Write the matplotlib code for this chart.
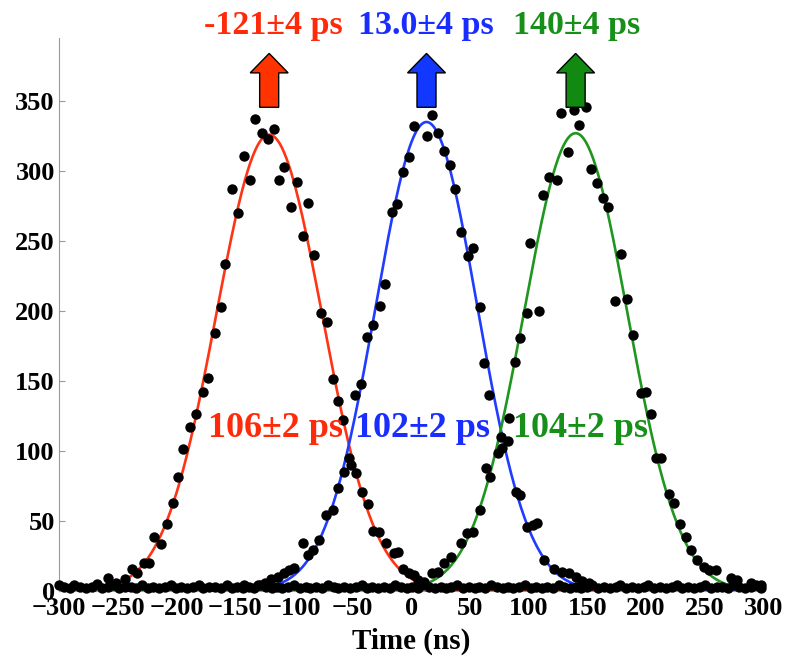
import matplotlib
matplotlib.use("Agg")
import matplotlib.pyplot as plt
import numpy as np
from matplotlib.patches import FancyArrow

plt.rcParams["font.family"] = ["Liberation Serif", "DejaVu Serif"]
plt.rcParams["font.weight"] = "bold"

# Gaussian fit results (x in ns): centre, FWHM, peak height, fitted range
fit_center = [-121.0, 13.0, 140.0]
fit_fwhm = [106.0, 102.0, 104.0]
fit_height = [326.0, 335.0, 327.0]
fit_lo = [-252.0, -132.0, -300.0]
fit_hi = [161.0, 300.0, 295.0]
fit_colors = ["#ff3415", "#1f3cff", "#1f961f"]
text_colors = ["#ff2a0a", "#1a2dff", "#17901a"]
arrow_colors = ["#ff3300", "#1238ff", "#128a12"]

shift_labels = ["-121\u00b14 ps", "13.0\u00b14 ps", "140\u00b14 ps"]
width_labels = ["106\u00b12 ps", "102\u00b12 ps", "104\u00b12 ps"]
# small horizontal nudges of the labels relative to the fit centre
shift_dx = [3.5, -0.5, 1.0]
width_dx = [5.0, -3.0, 4.0]

# measured histogram points
red_x = [-132.8, -127.4, -122.3, -117.2, -142.7, -137.4, -152.7, -147.6, -158.6, -162.3,
         -167.4, -112.4, -108.2, -97.4, -102.5, -88.2, -92.5, -82.6, -76.9, -71.8,
         -173.4, -177.1, -183.3, -188.4, -194.1, -198.9, -202.6, -208.2, -218.8, -213.1,
         -223.0, -227.8, -233.3, -238.0, -243.7, -251.4, -258.5,
         -67.0, -62.2, -58.5, -52.8, -51.4, -47.1, -42.0, -37.2, -32.9, -27.3,
         -21.6, -14.5, -11.7, -7.4, -1.8, 2.5, 5.4, 11.0]
red_y = [336.9, 327.4, 322.9, 330.0, 310.7, 293.6, 287.1, 269.8, 233.6, 202.6,
         184.5, 293.6, 303.1, 291.9, 274.5, 277.4, 253.6, 240.0, 198.4, 192.4,
         151.9, 141.9, 126.4, 117.4, 101.2, 81.2, 63.1, 47.9, 38.3, 33.6,
         20.2, 20.2, 13.1, 15.5, 8.3, 5.9, 9.5,
         151.2, 135.7, 122.1, 94.8, 90.0, 84.5, 70.9, 62.1, 43.1, 42.4,
         34.1, 26.9, 28.1, 15.5, 12.6, 11.4, 7.9, 6.6]

blue_x = [17.5, 2.5, 13.0, 23.2, 27.5, 33.1, -1.8, -7.4, -12.2, -16.8,
          37.4, 42.2, 52.7, 48.4, 58.6, -22.2, -26.7, -32.4, -37.8,
          -42.9, -48.0, -57.1, -62.7, -67.0, -72.7, -78.4, -84.0, -92.0, -88.2,
          -99.6, -103.9, -108.7, -113.8, -119.5, -124.6, -130.8, -142.2,
          62.1, 66.3, 83.3, 89.0, 92.7, 99.0, 107.5, 103.5, 113.1, 121.6,
          128.8, 134.4, 140.1, 145.8, 151.4]
blue_y = [340.0, 332.1, 325.2, 327.4, 314.5, 304.3, 309.7, 299.5, 276.4, 270.5,
          286.9, 256.2, 244.8, 239.3, 202.6, 219.3, 203.8, 190.0, 181.7,
          147.6, 140.0, 85.2, 73.4, 57.9, 54.3, 36.4, 29.3, 34.5, 25.7,
          16.2, 15.0, 12.6, 10.2, 8.3, 5.9, 4.3, 4.3,
          163.1, 140.0, 123.3, 70.9, 68.6, 45.9, 48.8, 47.0, 22.1, 15.5,
          13.8, 12.6, 9.8, 7.4, 5.5]

green_x = [101.2, 98.4, 92.4, 127.9, 138.6, 148.6, 142.9, 133.9, 152.9, 158.6,
           117.4, 123.9, 112.6, 163.3, 167.6, 178.4, 173.3, 184.1, 108.4, 188.9,
           88.2, 82.0, 77.7, 76.3, 73.5, 63.5, 67.2, 58.6, 53.0, 47.9,
           42.2, 33.7, 28.0, 22.4, 18.1,
           195.4, 199.7, 203.9, 208.2, 212.4, 219.5, 223.8, 228.6, 233.7, 238.0,
           243.7, 249.3, 253.5, 259.2, 272.0, 277.7, 289.0, 297.5]
green_y = [248.8, 198.4, 180.7, 341.2, 343.6, 345.5, 332.9, 313.8, 301.2, 291.6,
           295.5, 293.6, 282.9, 280.9, 274.5, 240.7, 207.4, 208.4, 200.0, 182.6,
           163.8, 107.4, 101.9, 110.2, 98.8, 87.6, 81.6, 57.9, 42.4, 41.2,
           34.1, 24.5, 20.2, 13.8, 12.6,
           141.6, 142.4, 126.4, 94.8, 94.8, 69.3, 63.1, 47.9, 38.8, 29.3,
           22.1, 17.4, 15.0, 15.0, 9.1, 7.9, 5.5, 4.3]

# background counts along the baseline
base_x = [-300, -296, -291, -287, -282, -277, -272, -268, -263, -258, -253, -249, -244,
          -239, -234, -229, -224, -220, -215, -210, -205, -200, -196, -191, -186, -181,
          -177, -172, -167, -162, -157, -153, -148, -143, -138, -134, -129, -124, -119,
          -114, -110, -105, -100, -95, -90, -86, -81, -76, -71, -66, -62, -57, -52,
          -47, -42, -38, -33, -28, -23, -18, -14, -9, -4, 1, 6, 10, 15, 20, 25, 30,
          34, 39, 44, 49, 54, 58, 63, 68, 73, 78, 82, 87, 92, 97, 102, 106, 111, 116,
          121, 126, 130, 135, 140, 145, 150, 154, 159, 164, 169, 174, 178, 183, 188,
          193, 198, 202, 207, 212, 217, 222, 226, 231, 236, 241, 246, 250, 255, 260,
          265, 270, 274, 279, 284, 289, 294, 298]
base_y = [4, 3, 2, 4, 3, 2, 3, 5, 2, 3, 4, 2, 3,
          3, 2, 4, 2, 3, 2, 3, 4, 2, 3, 2, 3, 4,
          2, 3, 3, 2, 4, 2, 3, 2, 3, 2, 4, 3, 2,
          3, 2, 3, 4, 2, 3, 2, 3, 2, 4, 3, 2, 3, 2,
          3, 4, 2, 3, 2, 3, 2, 4, 3, 2, 3, 2, 4, 3, 2, 3, 2,
          3, 4, 2, 3, 2, 3, 2, 4, 3, 2, 3, 2, 3, 4, 2, 3, 2, 3,
          2, 4, 3, 2, 3, 2, 3, 4, 2, 3, 2, 3, 4, 2, 3,
          2, 3, 4, 2, 3, 2, 3, 4, 2, 3, 2, 3, 4, 2, 3,
          3, 2, 4, 3, 2, 3, 4, 2]

fig = plt.figure(figsize=(8, 6.67), dpi=100)
ax = fig.add_axes([0.07375, 0.114, 0.8806, 0.829])

for c, w, h, lo, hi, col in zip(fit_center, fit_fwhm, fit_height, fit_lo, fit_hi, fit_colors):
    xs = np.linspace(lo, hi, 600)
    ax.plot(xs, h * np.exp(-4 * np.log(2) * (xs - c) ** 2 / w ** 2), color=col, lw=1.9, zorder=2)

all_x = red_x + blue_x + green_x + base_x
all_y = red_y + blue_y + green_y + base_y
ax.scatter(all_x, all_y, s=56, color="black", zorder=3, clip_on=False, linewidths=0)

for i, c in enumerate(fit_center):
    arr = FancyArrow(c, 345.5, 0, 38.5, width=16.2, head_width=32.3, head_length=13.9,
                     length_includes_head=True, fc=arrow_colors[i], ec="black", lw=1.0,
                     clip_on=False, zorder=4)
    ax.add_patch(arr)
    ax.text(c + shift_dx[i], 398, shift_labels[i], color=text_colors[i], fontsize=24.5,
            fontweight="bold", ha="center", va="baseline", clip_on=False)
    ax.text(c + width_dx[i], 110, width_labels[i], color=text_colors[i], fontsize=26,
            fontweight="bold", ha="center", va="baseline", zorder=5)

ax.set_xlim(-300, 300)
ax.set_ylim(0, 395)
ax.set_xticks(np.arange(-300, 301, 50))
ax.set_yticks(np.arange(0, 351, 50))
ax.tick_params(direction="in", length=4, color="#999999", labelsize=19)
ax.tick_params(axis="x", pad=4)
ax.tick_params(axis="y", pad=3)
for lab in ax.get_xticklabels() + ax.get_yticklabels():
    lab.set_fontweight("bold")
ax.spines["top"].set_visible(False)
ax.spines["right"].set_visible(False)
ax.spines["left"].set_color("#999999")
ax.spines["bottom"].set_color("#999999")
ax.set_xlabel("Time (ns)", fontsize=21, fontweight="bold", labelpad=6)

fig.savefig("out.png", dpi=100)
